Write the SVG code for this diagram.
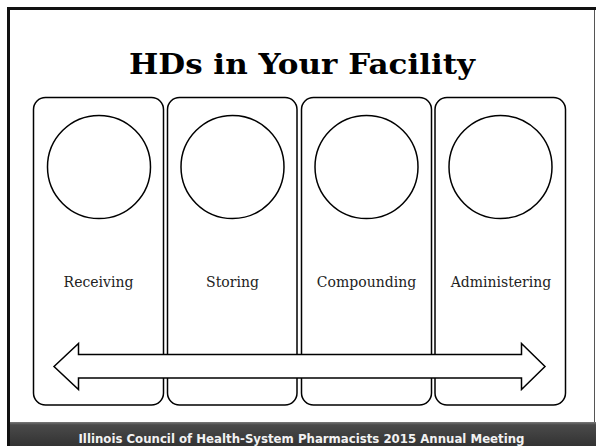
<svg xmlns="http://www.w3.org/2000/svg" width="596" height="446" viewBox="0 0 596 446">
  <defs>
    <linearGradient id="footerFill" x1="0" y1="0" x2="0" y2="1">
      <stop offset="0" stop-color="#7a7a7a"/>
      <stop offset="0.12" stop-color="#4a4a4a"/>
      <stop offset="1" stop-color="#333333"/>
    </linearGradient>
  </defs>
  <style>
    .col { fill: #ffffff; stroke: #000000; stroke-width: 1.5; }
    .disc { fill: #ffffff; stroke: #000000; stroke-width: 1.5; }
    .label { font-family: "DejaVu Serif", "Liberation Serif", serif; font-size: 14px; fill: #222222; text-anchor: middle; }
    .title { font-family: "DejaVu Serif", "Liberation Serif", serif; font-weight: bold; font-size: 28px; fill: #000000; text-anchor: middle; }
    .footer { font-family: "DejaVu Sans", "Liberation Sans", sans-serif; font-weight: bold; font-size: 11.5px; fill: #f2f2f2; text-anchor: middle; }
  </style>

  <!-- page background and frame -->
  <rect x="0" y="0" width="596" height="446" fill="#ffffff"/>
  <line x1="8.5" y1="8.5" x2="596" y2="8.5" stroke="#111111" stroke-width="3"/>
  <line x1="8.5" y1="7" x2="8.5" y2="446" stroke="#111111" stroke-width="3"/>
  <line x1="594.5" y1="10" x2="594.5" y2="422" stroke="#555555" stroke-width="1"/>

  <!-- footer band -->
  <rect x="10" y="422" width="586" height="24" fill="url(#footerFill)"/>
  <text class="footer" x="301.5" y="443" textLength="446" lengthAdjust="spacingAndGlyphs">Illinois Council of Health-System Pharmacists 2015 Annual Meeting</text>

  <!-- title -->
  <text class="title" x="302" y="74" textLength="346" lengthAdjust="spacingAndGlyphs">HDs in Your Facility</text>

  <!-- stage columns -->
  <g id="receiving">
    <rect class="col" x="33.5" y="97.5" width="130" height="307.5" rx="12" ry="12"/>
    <circle class="disc" cx="99" cy="167" r="51.5"/>
    <text class="label" x="98.5" y="286.5">Receiving</text>
  </g>
  <g id="storing">
    <rect class="col" x="167.5" y="97.5" width="129.5" height="307.5" rx="12" ry="12"/>
    <circle class="disc" cx="232.5" cy="167" r="51.5"/>
    <text class="label" x="232.5" y="286.5">Storing</text>
  </g>
  <g id="compounding">
    <rect class="col" x="301.5" y="97.5" width="130" height="307.5" rx="12" ry="12"/>
    <circle class="disc" cx="366.5" cy="167" r="51.5"/>
    <text class="label" x="366.5" y="286.5">Compounding</text>
  </g>
  <g id="administering">
    <rect class="col" x="435" y="97.5" width="130.5" height="307.5" rx="12" ry="12"/>
    <circle class="disc" cx="500.5" cy="167" r="51.5"/>
    <text class="label" x="501" y="286.5">Administering</text>
  </g>

  <!-- connectors: double-headed block arrow across the stages -->
  <g id="connectors">
    <path d="M54,366.5 L78.5,343.5 L78.5,354.5 L521.5,354.5 L521.5,343.5 L545,366.5 L521.5,389.5 L521.5,378 L78.5,378 L78.5,389.5 Z" fill="#ffffff" stroke="#000000" stroke-width="1.5" stroke-linejoin="miter"/>
  </g>
</svg>
